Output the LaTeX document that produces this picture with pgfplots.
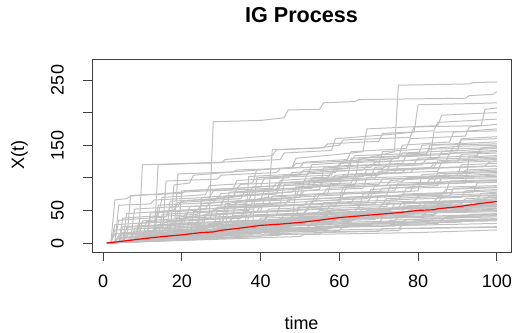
\documentclass[border=0pt]{standalone}
\usepackage{pgfplots}
\pgfplotsset{compat=1.18}
\usepackage{fontspec}
\setmainfont{Liberation Sans}
\definecolor{rgray}{RGB}{192,192,192}
\pgfplotsset{gp/.style={rgray, line width=1bp}}
\begin{document}
\fontsize{18bp}{21bp}\selectfont
\begin{tikzpicture}
\path[use as bounding box] (-92bp,-81bp) rectangle (420bp,252bp);
\begin{axis}[at={(0,0)}, anchor=south west, scale only axis,
  width=419bp, height=193bp,
  xmin=-2.8, xmax=103.6, ymin=-13.8, ymax=282.2,
  axis line style={black!75, line width=0.8bp},
  tick pos=left, tick align=outside, major tick length=9bp,
  tick style={black!75, line width=0.8bp},
  xtick={0,20,...,100}, ytick={0,50,...,250},
  yticklabels={0,50,{},150,{},250},
  /pgf/number format/assume math mode=true,
  ticklabel style={font=\fontsize{18bp}{21bp}\selectfont},
  xticklabel style={inner sep=0pt, anchor=north, yshift=-14bp},
  yticklabel style={inner sep=0pt, rotate=90, anchor=south},
  yticklabel shift=19bp,
  clip=true]
% high paths
\addplot[gp] coordinates {(1,0)(8,5)(9,12)(20,18)(21,40)(33,45)(34,62)(50,70)(51,95)(62,100)(63,125)(74,140)(75,242)(93,244)(94,246)(100,247)};
\addplot[gp] coordinates {(1,0)(6,4)(14,12)(15,30)(27,45)(28,186)(40,188)(46,192)(47,204)(55,205)(56,215)(64,217)(65,220)(92,222)(93,226)(99,228)(100,232)};
\addplot[gp] coordinates {(1,0)(9,3)(10,120)(22,122)(30,123)(31,128)(43,134)(44,143)(56,146)(57,152)(70,156)(71,168)(84,172)(85,185)(100,190)};
\addplot[gp] coordinates {(1,0)(13,8)(14,120)(30,124)(45,128)(46,138)(58,142)(59,160)(72,166)(79,170)(80,212)(95,214)(100,215)};
\addplot[gp] coordinates {(1,0)(17,10)(18,89)(22,92)(23,104)(35,110)(48,116)(49,130)(60,136)(66,140)(67,175)(85,180)(86,196)(100,200)};
\addplot[gp] coordinates {(1,0)(20,12)(30,18)(31,60)(42,70)(43,143)(55,146)(60,150)(61,158)(78,162)(79,178)(96,180)(97,205)(100,207)};
\addplot[gp] coordinates {(1,0)(10,6)(25,15)(38,30)(39,100)(52,105)(53,120)(65,125)(75,130)(76,150)(88,155)(89,170)(100,175)};
\addplot[gp] coordinates {(1,0)(12,8)(24,20)(25,65)(40,75)(55,82)(56,115)(70,120)(71,140)(90,148)(91,160)(100,163)};
\addplot[gp] coordinates {(1,0)(2,1)(3,66)(6,68)(7,72)(20,78)(33,82)(34,96)(47,100)(48,108)(62,114)(63,130)(80,135)(81,150)(100,155)};
\addplot[gp] coordinates {(1,0)(15,5)(35,20)(48,30)(49,86)(60,90)(61,105)(72,108)(73,125)(85,130)(86,140)(100,145)};
\addplot[gp] coordinates {(1,0)(6,3)(7,73)(20,76)(21,80)(40,86)(41,100)(58,104)(59,118)(76,122)(77,135)(100,140)};
\addplot[gp] coordinates {(1,0)(28,15)(29,55)(45,60)(46,90)(64,96)(65,130)(82,134)(83,150)(100,152)};
\addplot[gp] coordinates {(1,0)(4,2)(5,38)(14,42)(15,70)(26,74)(27,88)(38,92)(39,112)(50,116)(51,124)(62,128)(63,140)(77,145)(78,160)(92,164)(93,178)(100,182)};
\addplot[gp] coordinates {(1,0)(7,3)(8,52)(19,56)(20,64)(33,70)(34,84)(45,88)(46,104)(59,108)(60,122)(73,126)(74,132)(88,136)(89,148)(100,150)};
\addplot[gp] coordinates {(1,0)(11,4)(12,46)(24,50)(25,60)(37,66)(38,78)(53,84)(54,96)(68,100)(69,116)(81,120)(82,128)(100,132)};
\addplot[gp] coordinates {(1,0)(16,6)(17,64)(29,68)(30,76)(44,80)(45,96)(57,100)(58,110)(71,114)(72,120)(87,124)(88,138)(100,142)};
\addplot[gp] coordinates {(1,0)(2,1)(3,28)(13,32)(14,48)(26,52)(27,62)(40,66)(41,82)(55,86)(56,94)(69,98)(70,110)(83,114)(84,122)(100,126)};
\addplot[gp] coordinates {(1,0)(19,8)(20,80)(34,84)(35,90)(51,94)(52,108)(66,112)(67,118)(79,122)(80,130)(95,134)(96,146)(100,148)};
\addplot[gp] coordinates {(1,0)(24,12)(25,70)(37,74)(38,86)(52,90)(53,98)(66,102)(67,112)(84,116)(85,126)(100,130)};
\addplot[gp] coordinates {(1,0)(9,4)(10,34)(21,38)(22,56)(36,60)(37,66)(49,70)(50,86)(64,90)(65,104)(78,108)(79,114)(100,118)};
\addplot[gp] coordinates {(1,0)(31,14)(32,78)(44,82)(45,92)(58,96)(59,104)(74,108)(75,120)(90,124)(91,136)(100,138)};
\addplot[gp] coordinates {(1,0)(5,2)(6,24)(18,28)(19,40)(31,44)(32,58)(47,62)(48,70)(61,74)(62,90)(76,94)(77,100)(91,104)(92,112)(100,114)};
\addplot[gp] coordinates {(1,0)(14,6)(15,44)(28,48)(29,54)(42,58)(43,72)(56,76)(57,84)(72,88)(73,96)(86,100)(87,106)(100,108)};
\addplot[gp] coordinates {(1,0)(36,16)(37,102)(50,106)(51,112)(68,116)(69,124)(83,128)(84,170)(100,172)};
\addplot[gp] coordinates {(1,0)(3,1)(4,58)(12,60)(13,66)(27,70)(28,80)(43,84)(44,92)(60,96)(61,104)(76,108)(77,114)(97,118)(98,124)(100,125)};
\addplot[gp] coordinates {(1,0)(21,10)(22,36)(35,40)(36,54)(51,58)(52,64)(67,68)(68,82)(80,86)(81,92)(100,96)};
\addplot[gp] coordinates {(1,0)(12,5)(13,26)(25,30)(26,44)(39,48)(40,56)(53,60)(54,74)(70,78)(71,84)(85,88)(86,100)(100,104)};
\addplot[gp] coordinates {(1,0)(15,7)(16,95)(29,98)(30,104)(44,108)(45,114)(60,118)(61,126)(75,130)(76,138)(90,142)(91,158)(100,160)};
\addplot[gp] coordinates {(1,0)(18,9)(19,106)(33,109)(34,112)(48,115)(49,122)(63,126)(64,134)(82,138)(83,144)(100,146)};
% mid paths
\addplot[gp] coordinates {(1,0)(5,3)(6,45)(18,50)(19,62)(35,68)(36,80)(52,85)(53,100)(70,104)(71,112)(100,118)};
\addplot[gp] coordinates {(1,0)(13,6)(14,58)(28,62)(29,70)(44,75)(45,88)(63,92)(64,105)(85,110)(86,125)(100,128)};
\addplot[gp] coordinates {(1,0)(10,5)(25,14)(26,42)(40,48)(41,70)(57,75)(58,95)(80,100)(100,106)};
\addplot[gp] coordinates {(1,0)(18,8)(19,50)(33,55)(34,65)(50,70)(51,80)(66,84)(67,100)(90,104)(91,120)(100,122)};
\addplot[gp] coordinates {(1,0)(3,1)(4,35)(16,40)(17,55)(30,58)(31,72)(48,78)(49,85)(70,90)(71,98)(100,102)};
\addplot[gp] coordinates {(1,0)(22,10)(23,48)(38,52)(39,60)(54,64)(55,76)(74,80)(75,92)(100,96)};
\addplot[gp] coordinates {(1,0)(8,4)(9,30)(27,36)(28,52)(46,58)(47,66)(68,72)(69,88)(84,92)(85,108)(100,112)};
\addplot[gp] coordinates {(1,0)(15,7)(32,16)(33,45)(52,52)(53,64)(60,66)(61,86)(82,90)(83,98)(100,100)};
\addplot[gp] coordinates {(1,0)(11,5)(12,40)(24,44)(25,52)(42,56)(60,62)(61,75)(78,79)(79,90)(100,94)};
\addplot[gp] coordinates {(1,0)(20,9)(36,18)(37,40)(50,45)(65,52)(66,75)(80,80)(81,105)(100,110)};
\addplot[gp] coordinates {(1,0)(4,2)(5,25)(20,30)(21,46)(37,50)(38,64)(56,68)(72,73)(73,88)(92,92)(93,132)(100,134)};
\addplot[gp] coordinates {(1,0)(9,4)(23,12)(24,36)(44,42)(45,58)(63,62)(64,70)(87,76)(88,95)(100,97)};
\addplot[gp] coordinates {(1,0)(26,12)(27,30)(41,34)(42,52)(59,56)(60,68)(76,72)(77,84)(100,88)};
\addplot[gp] coordinates {(1,0)(7,3)(8,22)(29,28)(30,38)(49,44)(50,55)(69,60)(70,72)(94,78)(95,92)(100,93)};
% low paths
\addplot[gp] coordinates {(1,0)(10,4)(11,18)(26,22)(27,30)(45,34)(46,44)(64,48)(65,58)(85,62)(86,70)(100,73)};
\addplot[gp] coordinates {(1,0)(14,5)(15,16)(30,20)(31,28)(50,32)(51,40)(70,44)(71,52)(90,56)(100,58)};
\addplot[gp] coordinates {(1,0)(6,2)(20,8)(21,20)(40,24)(41,32)(60,36)(61,44)(80,48)(81,55)(100,60)};
\addplot[gp] coordinates {(1,0)(18,6)(19,14)(36,18)(37,26)(58,30)(59,36)(77,40)(78,46)(100,50)};
\addplot[gp] coordinates {(1,0)(25,8)(26,18)(47,22)(48,27)(70,31)(71,38)(100,42)};
\addplot[gp] coordinates {(1,0)(30,10)(31,16)(55,20)(56,24)(82,28)(83,34)(100,36)};
\addplot[gp] coordinates {(1,0)(40,10)(41,14)(70,18)(71,22)(100,25)};
\addplot[gp] coordinates {(1,0)(50,10)(51,13)(80,16)(100,20)};
\addplot[gp] coordinates {(1,0)(3,1)(4,12)(22,16)(23,26)(39,30)(40,38)(57,42)(58,50)(76,54)(77,62)(95,66)(96,76)(100,78)};
\addplot[gp] coordinates {(1,0)(12,4)(13,22)(33,26)(34,34)(53,38)(54,46)(73,50)(74,60)(100,64)};
\addplot[gp] coordinates {(1,0)(9,3)(10,10)(28,14)(29,24)(48,28)(49,34)(67,38)(68,45)(88,49)(89,56)(100,58)};
\addplot[gp] coordinates {(1,0)(16,5)(17,30)(34,34)(35,40)(54,44)(55,50)(75,54)(76,62)(100,66)};
\addplot[gp] coordinates {(1,0)(21,7)(22,14)(43,18)(44,26)(62,30)(63,38)(84,42)(85,48)(100,50)};
\addplot[gp] coordinates {(1,0)(5,2)(6,14)(24,18)(25,24)(42,27)(43,36)(66,40)(67,47)(87,50)(88,58)(100,60)};
\addplot[gp] coordinates {(1,0)(33,12)(34,20)(52,24)(53,30)(74,34)(75,40)(100,44)};
\addplot[gp] coordinates {(1,0)(8,3)(9,25)(30,30)(31,40)(51,45)(52,52)(72,56)(73,66)(91,70)(92,80)(100,82)};
\addplot[gp] coordinates {(1,0)(19,6)(20,38)(37,42)(38,48)(57,52)(58,60)(79,64)(80,72)(100,76)};
\addplot[gp] coordinates {(1,0)(11,4)(12,16)(31,20)(32,32)(56,36)(57,44)(78,48)(79,54)(100,57)};
\addplot[gp] coordinates {(1,0)(27,9)(28,20)(46,24)(47,34)(68,38)(69,46)(89,50)(90,57)(100,58)};
\addplot[gp] coordinates {(1,0)(2,1)(3,20)(17,24)(18,34)(35,38)(36,48)(55,52)(56,62)(75,66)(76,75)(100,80)};
\addplot[gp] coordinates {(1,0)(15,4)(35,10)(36,15)(60,19)(61,26)(85,30)(86,34)(100,35)};
\addplot[gp] coordinates {(1,0)(23,7)(24,25)(41,28)(42,34)(63,38)(64,44)(83,48)(84,54)(100,56)};
\addplot[gp] coordinates {(1,0)(7,2)(8,18)(26,22)(27,28)(47,32)(48,42)(69,46)(70,52)(93,56)(94,66)(100,68)};
\addplot[gp] coordinates {(1,0)(38,13)(39,24)(58,28)(59,36)(81,40)(82,46)(100,48)};
\addplot[gp] coordinates {(1,0)(13,4)(14,28)(32,32)(33,42)(51,46)(52,55)(71,59)(72,68)(88,72)(89,84)(100,86)};
\addplot[gp] coordinates {(1,0)(4,1)(5,16)(22,20)(23,26)(44,30)(45,38)(66,42)(67,50)(86,54)(100,56)};
\addplot[gp] coordinates {(1,0)(45,12)(46,18)(75,22)(76,27)(100,30)};
\addplot[gp] coordinates {(1,0)(20,5)(21,12)(39,15)(40,20)(62,24)(63,30)(100,34)};
\addplot[gp] coordinates {(1,0)(10,3)(11,33)(29,37)(30,45)(49,49)(50,58)(67,62)(68,70)(86,74)(87,82)(100,85)};
\addplot[gp] coordinates {(1,0)(17,6)(18,19)(38,23)(39,30)(59,34)(60,40)(79,44)(80,52)(100,54)};
\addplot[gp] coordinates {(1,0)(6,2)(7,10)(19,13)(20,19)(32,22)(33,30)(46,33)(47,38)(59,41)(60,47)(73,50)(74,55)(88,58)(89,64)(100,66)};
\addplot[gp] coordinates {(1,0)(9,3)(10,8)(24,11)(25,17)(39,20)(40,25)(54,28)(55,33)(69,36)(70,41)(84,44)(85,48)(100,52)};
\addplot[gp] coordinates {(1,0)(13,4)(14,11)(27,14)(28,22)(42,25)(43,29)(58,32)(59,38)(71,41)(72,46)(90,49)(91,56)(100,58)};
\addplot[gp] coordinates {(1,0)(3,1)(4,8)(16,11)(17,16)(29,19)(30,26)(45,29)(46,34)(61,37)(62,44)(77,47)(78,52)(94,55)(95,62)(100,64)};
\addplot[gp] coordinates {(1,0)(20,6)(21,11)(35,13)(36,18)(53,21)(54,25)(68,28)(69,32)(86,35)(87,40)(100,42)};
\addplot[gp] coordinates {(1,0)(8,2)(9,12)(23,15)(24,20)(37,23)(38,31)(52,34)(53,40)(66,43)(67,50)(81,53)(82,60)(96,63)(97,70)(100,71)};
\addplot[gp] coordinates {(1,0)(15,4)(16,9)(34,12)(35,16)(51,19)(52,24)(67,27)(68,30)(83,33)(84,38)(100,40)};
\addplot[gp] coordinates {(1,0)(5,2)(6,9)(18,12)(19,18)(33,21)(34,28)(48,31)(49,36)(64,39)(65,45)(79,48)(80,53)(98,56)(99,60)(100,61)};
\addplot[gp] coordinates {(1,0)(28,8)(29,14)(44,17)(45,21)(61,24)(62,28)(78,31)(79,34)(100,37)};
\addplot[gp] coordinates {(1,0)(2,1)(3,14)(15,17)(16,22)(28,25)(29,32)(41,35)(42,42)(56,45)(57,50)(70,53)(71,60)(84,63)(85,70)(100,74)};
\addplot[gp] coordinates {(1,0)(11,3)(12,7)(26,10)(27,15)(43,18)(44,22)(60,25)(61,29)(76,32)(77,36)(92,39)(93,44)(100,45)};
\addplot[gp] coordinates {(1,0)(17,5)(18,12)(31,15)(32,21)(47,24)(48,30)(63,33)(64,38)(78,41)(79,47)(93,50)(94,55)(100,57)};
\addplot[gp] coordinates {(1,0)(7,2)(8,7)(22,9)(23,13)(40,15)(41,19)(57,21)(58,24)(74,26)(75,30)(91,32)(92,36)(100,37)};
\addplot[gp] coordinates {(1,0)(10,3)(11,13)(25,16)(26,24)(38,27)(39,33)(50,36)(51,44)(65,47)(66,52)(80,55)(81,63)(97,66)(98,72)(100,73)};
\addplot[gp] coordinates {(1,0)(35,8)(36,12)(55,14)(56,17)(75,19)(76,22)(100,24)};
\addplot[gp] coordinates {(1,0)(4,1)(5,9)(21,12)(22,17)(36,20)(37,27)(51,30)(52,35)(68,38)(69,43)(82,46)(83,50)(100,53)};
\addplot[gp] coordinates {(1,0)(14,4)(15,15)(30,18)(31,26)(46,29)(47,37)(62,40)(63,46)(76,49)(77,57)(91,60)(92,68)(100,70)};
\addplot[gp] coordinates {(1,0)(23,7)(24,12)(40,15)(41,20)(58,23)(59,27)(72,30)(73,35)(89,38)(90,42)(100,44)};
% mean path
\addplot[red, line width=1.2bp] coordinates {(1,0)(5,2.8)(10,6.5)(15,9.8)(20,12.5)(25,16)(28,17)(30,19.5)(35,23)(40,27)(45,29)(50,31.5)(55,35)(60,39)(65,41.5)(70,44)(75,46.5)(80,50)(84,51)(85,52.5)(90,55.5)(95,60)(100,63.5)};
\end{axis}
\node[font=\bfseries\fontsize{21.6bp}{25bp}\selectfont] at (209.5bp,237bp) {IG Process};
\node[inner sep=0pt] at (209.5bp,-71bp) {time};
\node[rotate=90] at (-72.5bp,96.5bp) {X(t)};
\end{tikzpicture}
\end{document}
